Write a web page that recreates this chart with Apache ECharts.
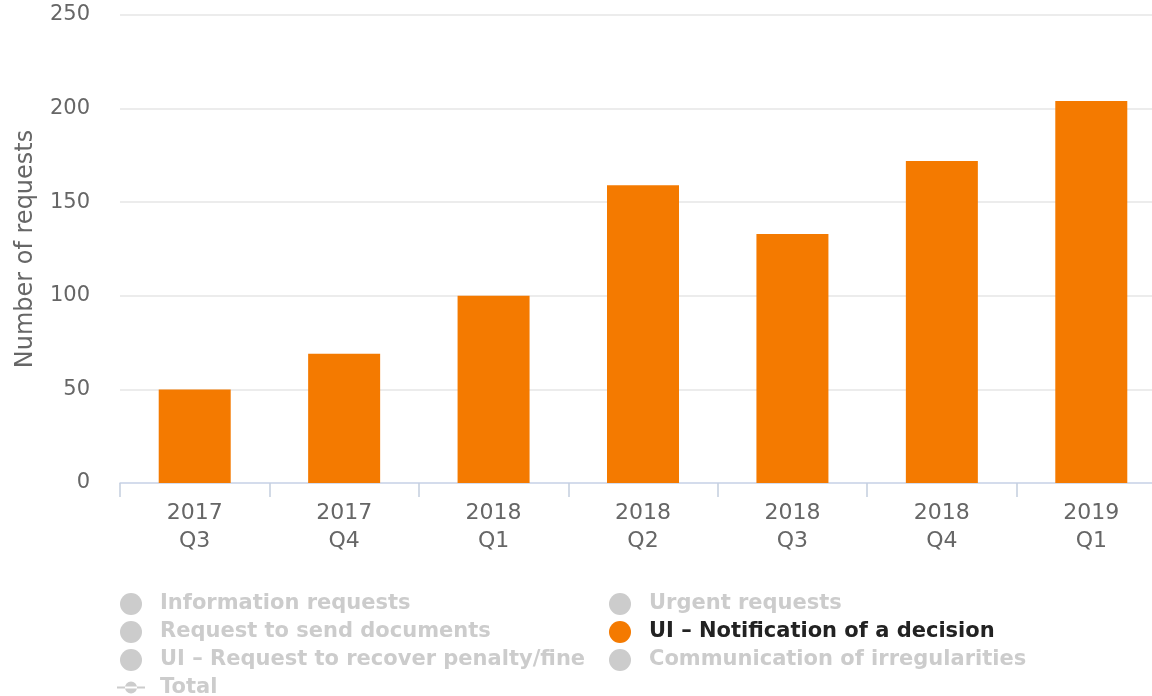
<!DOCTYPE html>
<html>
<head>
    <meta charset="utf-8">
    <title>Requests</title>
    <script src="https://cdn.jsdelivr.net/npm/echarts@6/dist/echarts.min.js"></script>
    <style>
        html, body { margin: 0; padding: 0; background: #fff; }
        #chart { width: 1152px; height: 696px; }
    </style>
</head>
<body>
    <div id="chart"></div>
    <script>
        // quarters on the x axis
        var quarters = ['2017\nQ3', '2017\nQ4', '2018\nQ1', '2018\nQ2', '2018\nQ3', '2018\nQ4', '2019\nQ1'];
        // the only visible series
        var notificationValues = [50, 69, 100, 159, 133, 172, 204];
        // y axis ticks
        var yTicks = [0, 50, 100, 150, 200, 250];
        // legend columns
        var legendLeft = ['Information requests', 'Request to send documents', 'UI – Request to recover penalty/fine', 'Total'];
        var legendRight = ['Urgent requests', 'UI – Notification of a decision', 'Communication of irregularities'];

        var font = 'DejaVu Sans';
        var hidden = {};
        legendLeft.concat(legendRight).forEach(function (n) {
            hidden[n] = (n === 'UI – Notification of a decision');
        });

        var legendBase = {
            orient: 'vertical',
            top: 588,
            height: 120,
            itemWidth: 28,
            itemHeight: 22,
            itemGap: 6,
            icon: 'circle',
            inactiveColor: '#cccccc',
            inactiveBorderColor: '#cccccc',
            selected: hidden,
            textStyle: { fontFamily: font, fontSize: 21, fontWeight: 'bold', color: '#222', padding: [0, 0, 0, 10] }
        };

        var series = [];
        legendLeft.concat(legendRight).forEach(function (n) {
            if (n === 'Total') {
                series.push({ name: n, type: 'line', data: [], symbol: 'circle', symbolSize: 10 });
            } else if (n === 'UI – Notification of a decision') {
                series.push({
                    name: n, type: 'bar', data: notificationValues, barWidth: 72,
                    barGap: '-100%', itemStyle: { color: '#f47a00' }
                });
            } else {
                series.push({ name: n, type: 'bar', data: [], barGap: '-100%' });
            }
        });

        var chart = echarts.init(document.getElementById('chart'));
        chart.setOption({
            animation: false,
            color: ['#cccccc', '#cccccc', '#cccccc', '#cccccc', '#cccccc', '#f47a00', '#cccccc'],
            grid: { left: 120, width: 1046, top: 15, bottom: 213, outerBoundsMode: 'none' },
            legend: [
                Object.assign({}, legendBase, {
                    left: 112,
                    data: legendLeft.map(function (n) {
                        return n === 'Total'
                            ? { name: n, icon: 'path://M0,10h28v2H0z M14,5a6,6 0 1,0 0.01,0z' }
                            : n;
                    })
                }),
                Object.assign({}, legendBase, { left: 604, data: legendRight })
            ],
            xAxis: {
                type: 'category',
                data: quarters,
                axisLine: { lineStyle: { color: '#ccd6eb', width: 1.5 } },
                axisTick: { show: true, alignWithLabel: false, length: 14, lineStyle: { color: '#c4cede', width: 1.5 } },
                axisLabel: { fontFamily: font, fontSize: 22, color: '#666', lineHeight: 28, margin: 16 }
            },
            yAxis: {
                type: 'value',
                min: yTicks[0],
                max: yTicks[yTicks.length - 1],
                interval: 50,
                name: 'Number of requests',
                nameLocation: 'middle',
                nameGap: 82,
                nameTextStyle: { fontFamily: font, fontSize: 24, color: '#666' },
                axisLine: { show: false },
                axisTick: { show: false },
                splitLine: { lineStyle: { color: '#e6e6e6', width: 1.5 } },
                axisLabel: { fontFamily: font, fontSize: 21, color: '#666', margin: 30 }
            },
            series: series
        });
    </script>
</body>
</html>
